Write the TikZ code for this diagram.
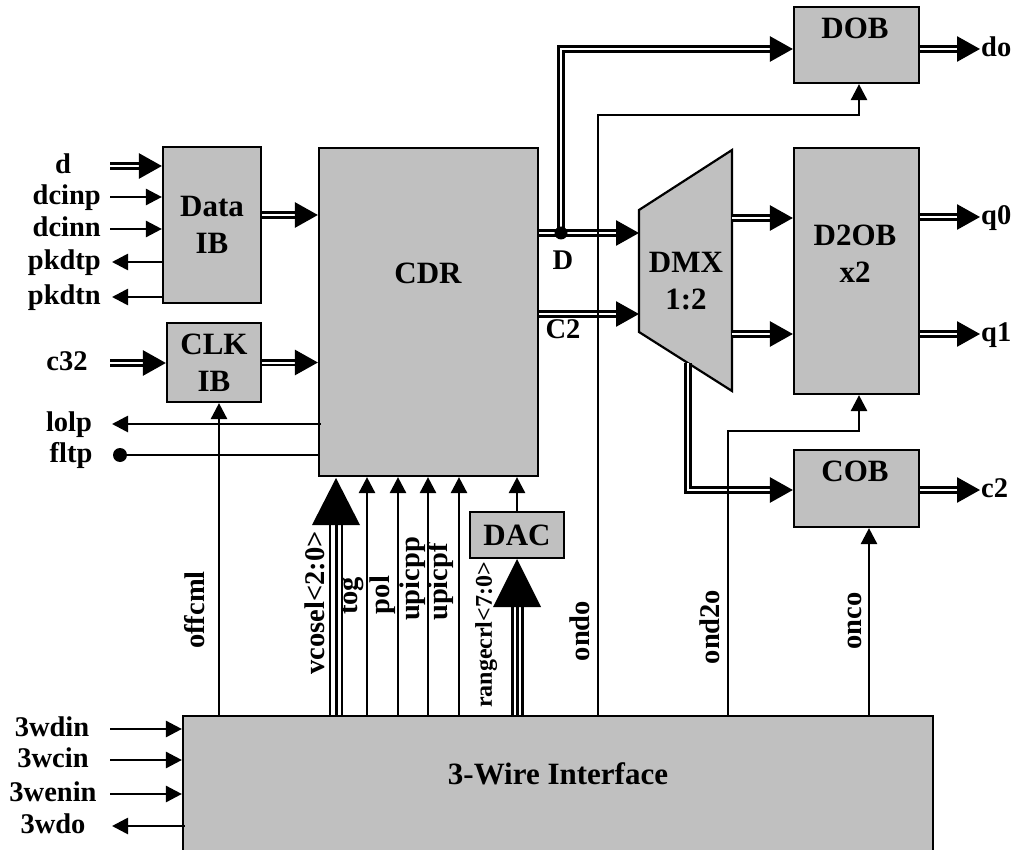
\documentclass[tikz,border=0pt]{standalone}
\usepackage{fontspec}
\setmainfont{Liberation Serif}
\usetikzlibrary{arrows.meta}
\definecolor{boxgray}{RGB}{192,192,192}
\begin{document}
\begin{tikzpicture}[x=1pt,y=-1pt,
  box/.style={draw, line width=2.2pt, fill=boxgray, inner sep=0pt},
  blk/.style={font=\bfseries\fontsize{31}{37}\selectfont, align=center, inner sep=0pt},
  lbl/.style={font=\bfseries\fontsize{28.5}{32}\selectfont, inner sep=0pt, text height=20pt, text depth=6.5pt},
  sig/.style={line width=2.7pt},
  sigarr/.style={sig, -{Triangle[length=16pt,width=16pt]}},
  dbl/.style={double=white, double distance=2pt, line width=2.7pt},
  dblarr/.style={dbl, -{Triangle[length=23pt,width=25pt]}},
  bus/.style={line width=2.7pt},
]
\useasboundingbox (0,0) rectangle (1017,850);

% ---------- blocks ----------
\node[box, blk, minimum width=98pt, minimum height=156pt] (dib) at (212,225) {Data\\IB};
\node[box, blk, minimum width=94pt, minimum height=79pt] (clk) at (214,362.5) {CLK\\IB};
\node[box, minimum width=219pt, minimum height=328pt] (cdr) at (428.5,312) {};
\node[blk] (cdrt) at (428,273) {CDR};
\node[box, blk, minimum width=94pt, minimum height=46pt] (dac) at (517,535) {DAC};
\node[box, minimum width=125pt, minimum height=76pt] (dob) at (856.5,45) {};
\node[blk] (dobt) at (855,28) {DOB};
\node[box, minimum width=125pt, minimum height=246pt] (d2ob) at (856.5,271) {};
\node[blk] (d2obt) at (855,254) {D2OB\\x2};
\node[box, minimum width=125pt, minimum height=77pt] (cob) at (856.5,488.5) {};
\node[blk] (cobt) at (855,471) {COB};
\node[box, minimum width=750pt, minimum height=140pt] (tw) at (558,786) {};
\node[blk] (twt) at (558,774) {3-Wire Interface};
% DMX trapezoid
\coordinate (m1) at (639,210);
\coordinate (m2) at (732,150);
\coordinate (m3) at (732,391);
\coordinate (m4) at (639,332);
\draw[line width=2.2pt, fill=boxgray, line join=miter] (m1) -- (m2) -- (m3) -- (m4) -- cycle;
\node[blk] (dmxt) at (686,281) {DMX\\1:2};

% ---------- Data IB / CLK IB side ----------
\coordinate (iD) at (110,166);
\coordinate (iP) at (110,197);
\coordinate (iN) at (110,229);
\coordinate (oP) at (112,262);
\coordinate (oN) at (112,297);
\coordinate (iC) at (110,363);
\coordinate (oL) at (112,424);
\coordinate (fD) at (120,455);
\draw[dblarr] (iD) -- (iD -| dib.west);
\draw[sigarr] (iP) -- (iP -| dib.west);
\draw[sigarr] (iN) -- (iN -| dib.west);
\draw[sigarr] (oP -| dib.west) -- (oP);
\draw[sigarr] (oN -| dib.west) -- (oN);
\draw[dblarr] (iC) -- (iC -| clk.west);
\coordinate (yd) at (0,215);
\draw[dblarr] (dib.east |- yd) -- (cdr.west |- yd);
\draw[dblarr] (clk.east) -- (cdr.west |- clk.east);
\draw[sigarr] ([xshift=3pt]cdr.west |- oL) -- (oL);
\draw[sig] (fD) -- (fD -| cdr.west);
\fill (fD) circle (7pt);

\node[lbl] (ld) at (63,167) {d};
\node[lbl, anchor=east] (lp) at (101,198) {dcinp};
\node[lbl, anchor=east] (ln) at (101,230) {dcinn};
\node[lbl, anchor=east] (lk1) at (101,263) {pkdtp};
\node[lbl, anchor=east] (lk2) at (101,298) {pkdtn};
\node[lbl] (lc) at (67,364) {c32};
\node[lbl] (ll) at (69,425) {lolp};
\node[lbl] (lf) at (71,456) {fltp};

% ---------- 3-wire inputs ----------
\coordinate (w1) at (110,729);
\coordinate (w2) at (110,760);
\coordinate (w3) at (110,794);
\coordinate (w4) at (112,826);
\draw[sigarr] (w1) -- (w1 -| tw.west);
\draw[sigarr] (w2) -- (w2 -| tw.west);
\draw[sigarr] (w3) -- (w3 -| tw.west);
\draw[sigarr] ([xshift=3pt]w4 -| tw.west) -- (w4);
\node[lbl] (l3a) at (52,730) {3wdin};
\node[lbl] (l3b) at (53,761) {3wcin};
\node[lbl] (l3c) at (53,795) {3wenin};
\node[lbl] (l3d) at (53,827) {3wdo};

% ---------- control lines to CDR ----------
\coordinate (coff) at (219,716);
\draw[sigarr] (coff) -- (coff |- clk.south);
\foreach \xx/\nm in {367/ctog, 398/cpol, 428/cupp, 459/cupf}{
  \coordinate (\nm) at (\xx,716);
  \draw[sigarr] (\nm) -- (\nm |- cdr.south);
}
\draw[sigarr] (dac.north) -- (dac.north |- cdr.south);
% vcosel bus
\foreach \xx in {330,336.5,342}{
  \draw[bus] (\xx,716) -- (\xx,522);
}
\coordinate (vtip) at (336,478);
\fill (312,525) -- (360,525) -- (vtip) -- cycle;
% rangecrl bus
\foreach \xx in {512.5,517.5,522.5}{
  \draw[bus] (\xx,716) -- (\xx,604);
}
\coordinate (rtip) at (517,559);
\fill (493,607) -- (541,607) -- (rtip) -- cycle;

\node[lbl, rotate=90] (lof) at (198,610) {offcml};
\node[lbl, rotate=90] (lvc) at (318,603) {vcosel<2:0>};
\node[lbl, rotate=90] (ltg) at (351,596) {tog};
\node[lbl, rotate=90] (lpl) at (383,595) {pol};
\node[lbl, rotate=90] (lu1) at (413,579) {upicpp};
\node[lbl, rotate=90] (lu2) at (441,582) {upicpf};
\node[lbl, rotate=90, font=\bfseries\fontsize{24}{28}\selectfont, text height=17pt, text depth=5.5pt] (lrg) at (486,635) {rangecrl<7:0>};

% ---------- CDR outputs ----------
\coordinate (Dj) at (561,233);
\coordinate (Dm) at (639,233);
\coordinate (Dt) at (561,49);
\coordinate (Cm) at (639,314);
\draw[dblarr] (cdr.east |- Dj) -- (Dm);
\draw[dblarr] (Dj) -- (Dt) -- (Dt -| dob.west);
\fill (Dj) circle (6.5pt);
\draw[dblarr] (cdr.east |- Cm) -- (Cm);
\node[lbl] (lD) at (563,263) {D};
\node[lbl] (lC2) at (563,332) {C2};

% ---------- DMX outputs ----------
\coordinate (q0m) at (732,218);
\coordinate (q1m) at (732,334);
\draw[dblarr] (q0m) -- (q0m -| d2ob.west);
\draw[dblarr] (q1m) -- (q1m -| d2ob.west);
\coordinate (ck0) at (688,363);
\coordinate (ck1) at (688,490);
\draw[dblarr] (ck0) -- (ck1) -- (ck1 -| cob.west);

% ---------- outputs ----------
\coordinate (odo) at (980,49);
\coordinate (oq0) at (980,217);
\coordinate (oq1) at (980,334);
\coordinate (oc2) at (980,490);
\draw[dblarr] (dob.east |- odo) -- (odo);
\draw[dblarr] (d2ob.east |- oq0) -- (oq0);
\draw[dblarr] (d2ob.east |- oq1) -- (oq1);
\draw[dblarr] (cob.east |- oc2) -- (oc2);
\node[lbl, anchor=west] (ldo) at (981,50) {do};
\node[lbl, anchor=west] (lq0) at (981,218) {q0};
\node[lbl, anchor=west] (lq1) at (981,335) {q1};
\node[lbl, anchor=west] (lc2) at (981,491) {c2};

% ---------- enable lines ----------
\coordinate (e1) at (598,716);
\coordinate (e1a) at (598,115);
\coordinate (e1b) at (859,115);
\draw[sigarr] (e1) -- (e1a) -- (e1b) -- (e1b |- dob.south);
\coordinate (e2) at (728,716);
\coordinate (e2a) at (728,431);
\coordinate (e2b) at (859,431);
\draw[sigarr] (e2) -- (e2a) -- (e2b) -- (e2b |- d2ob.south);
\coordinate (e3) at (869,716);
\draw[sigarr] (e3) -- (e3 |- cob.south);
\node[lbl, rotate=90] (lond) at (583,631) {ondo};
\node[lbl, rotate=90] (lon2) at (713,627) {ond2o};
\node[lbl, rotate=90] (lonc) at (855,621) {onco};
\end{tikzpicture}
\end{document}
